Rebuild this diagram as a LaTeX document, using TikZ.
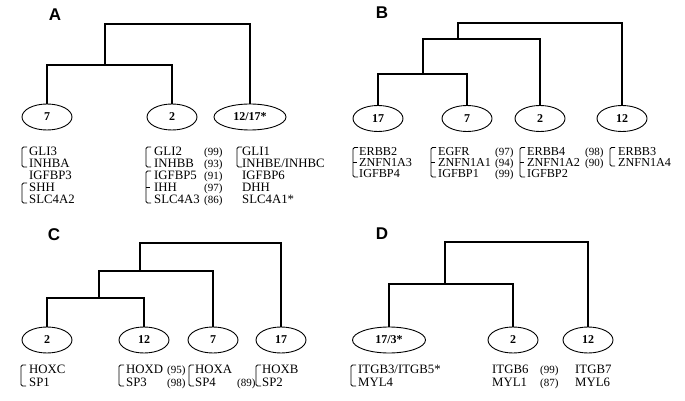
\documentclass[tikz,border=0pt]{standalone}
\usepackage{fontspec}
\setmainfont{Liberation Serif}
\newfontfamily\labfont{Liberation Sans}
\usetikzlibrary{shapes.geometric}
\tikzset{
  chrom/.style={ellipse,draw,line width=0.9pt,minimum width=50pt,minimum height=26pt,inner sep=0pt,font=\fontsize{12}{12}\selectfont\bfseries},
  wide/.style={minimum width=72pt},
  tree/.style={line width=1.8pt},
  brk/.style={line width=0.8pt,rounded corners=1.5pt},
  gene/.style={anchor=base west,inner sep=0pt,font=\fontsize{12.8}{13}\selectfont},
  geneb/.style={anchor=base west,inner sep=0pt,font=\fontsize{12.2}{12}\selectfont},
  num/.style={anchor=base west,inner sep=0pt,font=\fontsize{11}{12}\selectfont},
  plabel/.style={inner sep=0pt,font=\labfont\fontsize{17}{18}\selectfont\bfseries}
}
\newcommand\gbrk[3]{\draw[brk] (#1+5,#2) -- (#1,#2) -- (#1,#3) -- (#1+5,#3);}
\newcommand\gbrkm[3]{\draw[brk] (#1+5,#2) -- (#1,#2) -- (#1,#3) -- (#1+5,#3); \draw[line width=0.8pt] (#1,{(#2+#3)/2}) -- (#1+4,{(#2+#3)/2});}
\begin{document}
\begin{tikzpicture}[x=1pt,y=-1pt]
\useasboundingbox[fill=white] (0,0) rectangle (685,401);
% ---------------- Panel A ----------------
\node[plabel] (labA) at (55,14.5) {A};
\node[chrom] (a7) at (47,117) {7};
\node[chrom] (a2) at (172,117) {2};
\node[chrom,wide] (a12) at (250,117) {12/17*};
\coordinate (aj1) at (105,65);
\coordinate (aj2) at (105,24);
\draw[tree] (a7.north) |- (aj1) -| (a2.north);
\draw[tree] (aj1) -- (aj2) -| (a12.north);
\foreach \g [count=\i] in {GLI3,INHBA,IGFBP3,SHH,SLC4A2}
  \node[gene] (ga1-\i) at (29,{155+12*(\i-1)}) {\g};
\foreach \g [count=\i] in {GLI2,INHBB,IGFBP5,IHH,SLC4A3}
  \node[gene] (ga2-\i) at (154,{155+12*(\i-1)}) {\g};
\foreach \g [count=\i] in {(99),(93),(91),(97),(86)}
  \node[num] (na2-\i) at (204,{155+12*(\i-1)}) {\g};
\foreach \g [count=\i] in {GLI1,INHBE/INHBC,IGFBP6,DHH,SLC4A1*}
  \node[gene] (ga3-\i) at (242,{155+12*(\i-1)}) {\g};
\gbrk{22}{147}{167}
\gbrk{22}{183}{203}
\gbrk{146}{147}{167}
\gbrkm{146}{171}{203}
\gbrk{237}{147}{167}
% ---------------- Panel B ----------------
\node[plabel] (labB) at (382,13) {B};
\node[chrom] (b17) at (378,118.5) {17};
\node[chrom] (b7) at (467,118.5) {7};
\node[chrom] (b2) at (540,118.5) {2};
\node[chrom] (b12) at (622,118.5) {12};
\coordinate (bj1) at (423,74);
\coordinate (bj2) at (423,39);
\coordinate (bj3) at (458,39);
\coordinate (bj4) at (458,23);
\draw[tree] (b17.north) |- (bj1) -| (b7.north);
\draw[tree] (bj1) -- (bj2) -| (b2.north);
\draw[tree] (bj3) -- (bj4) -| (b12.north);
\foreach \g [count=\i] in {ERBB2,ZNFN1A3,IGFBP4}
  \node[geneb] (gb1-\i) at (359,{155+11*(\i-1)}) {\g};
\foreach \g [count=\i] in {EGFR,ZNFN1A1,IGFBP1}
  \node[geneb] (gb2-\i) at (438,{155+11*(\i-1)}) {\g};
\foreach \g [count=\i] in {(97),(94),(99)}
  \node[num] (nb2-\i) at (495,{155+11*(\i-1)}) {\g};
\foreach \g [count=\i] in {ERBB4,ZNFN1A2,IGFBP2}
  \node[geneb] (gb3-\i) at (527,{155+11*(\i-1)}) {\g};
\foreach \g [count=\i] in {(98),(90)}
  \node[num] (nb3-\i) at (585,{155+11*(\i-1)}) {\g};
\foreach \g [count=\i] in {ERBB3,ZNFN1A4}
  \node[geneb] (gb4-\i) at (618,{155+11*(\i-1)}) {\g};
\gbrkm{353}{147.5}{177}
\gbrkm{431}{147.5}{177}
\gbrkm{520}{147.5}{177}
\gbrk{610}{147.5}{166}
% ---------------- Panel C ----------------
\node[plabel] (labC) at (54,235) {C};
\node[chrom] (c2) at (47,340) {2};
\node[chrom] (c12) at (144,340) {12};
\node[chrom] (c7) at (213,340) {7};
\node[chrom] (c17) at (281,340) {17};
\coordinate (cj1) at (99,298);
\coordinate (cj2) at (99,271);
\coordinate (cj3) at (140,271);
\coordinate (cj4) at (140,243);
\draw[tree] (c2.north) |- (cj1) -| (c12.north);
\draw[tree] (cj1) -- (cj2) -| (c7.north);
\draw[tree] (cj3) -- (cj4) -| (c17.north);
\foreach \g [count=\i] in {HOXC,SP1}
  \node[gene] (gc1-\i) at (29,{373+13*(\i-1)}) {\g};
\foreach \g [count=\i] in {HOXD,SP3}
  \node[gene] (gc2-\i) at (126,{373+13*(\i-1)}) {\g};
\foreach \g [count=\i] in {(95),(98)}
  \node[num] (nc2-\i) at (167,{373+13*(\i-1)}) {\g};
\foreach \g [count=\i] in {HOXA,SP4}
  \node[gene] (gc3-\i) at (195,{373+13*(\i-1)}) {\g};
\node[num] (nc3-2) at (237,386) {(89)};
\foreach \g [count=\i] in {HOXB,SP2}
  \node[gene] (gc4-\i) at (262,{373+13*(\i-1)}) {\g};
\gbrk{21}{365}{386}
\gbrk{119}{365}{386}
\gbrk{189}{365}{386}
\gbrk{256}{365}{386}
% ---------------- Panel D ----------------
\node[plabel] (labD) at (382,234) {D};
\node[chrom,minimum width=73pt] (d17) at (389,340) {17/3*};
\node[chrom] (d2) at (513,340) {2};
\node[chrom] (d12) at (588,340) {12};
\coordinate (dj1) at (445,284);
\coordinate (dj2) at (445,242);
\draw[tree] (d17.north) |- (dj1) -| (d2.north);
\draw[tree] (dj1) -- (dj2) -| (d12.north);
\foreach \g [count=\i] in {ITGB3/ITGB5*,MYL4}
  \node[gene] (gd1-\i) at (358,{373+13.5*(\i-1)}) {\g};
\foreach \g [count=\i] in {ITGB6,MYL1}
  \node[gene] (gd2-\i) at (492,{373+13.5*(\i-1)}) {\g};
\foreach \g [count=\i] in {(99),(87)}
  \node[num] (nd2-\i) at (540,{373+13.5*(\i-1)}) {\g};
\foreach \g [count=\i] in {ITGB7,MYL6}
  \node[gene] (gd3-\i) at (575,{373+13.5*(\i-1)}) {\g};
\gbrk{351}{365}{386}
\end{tikzpicture}
\end{document}
